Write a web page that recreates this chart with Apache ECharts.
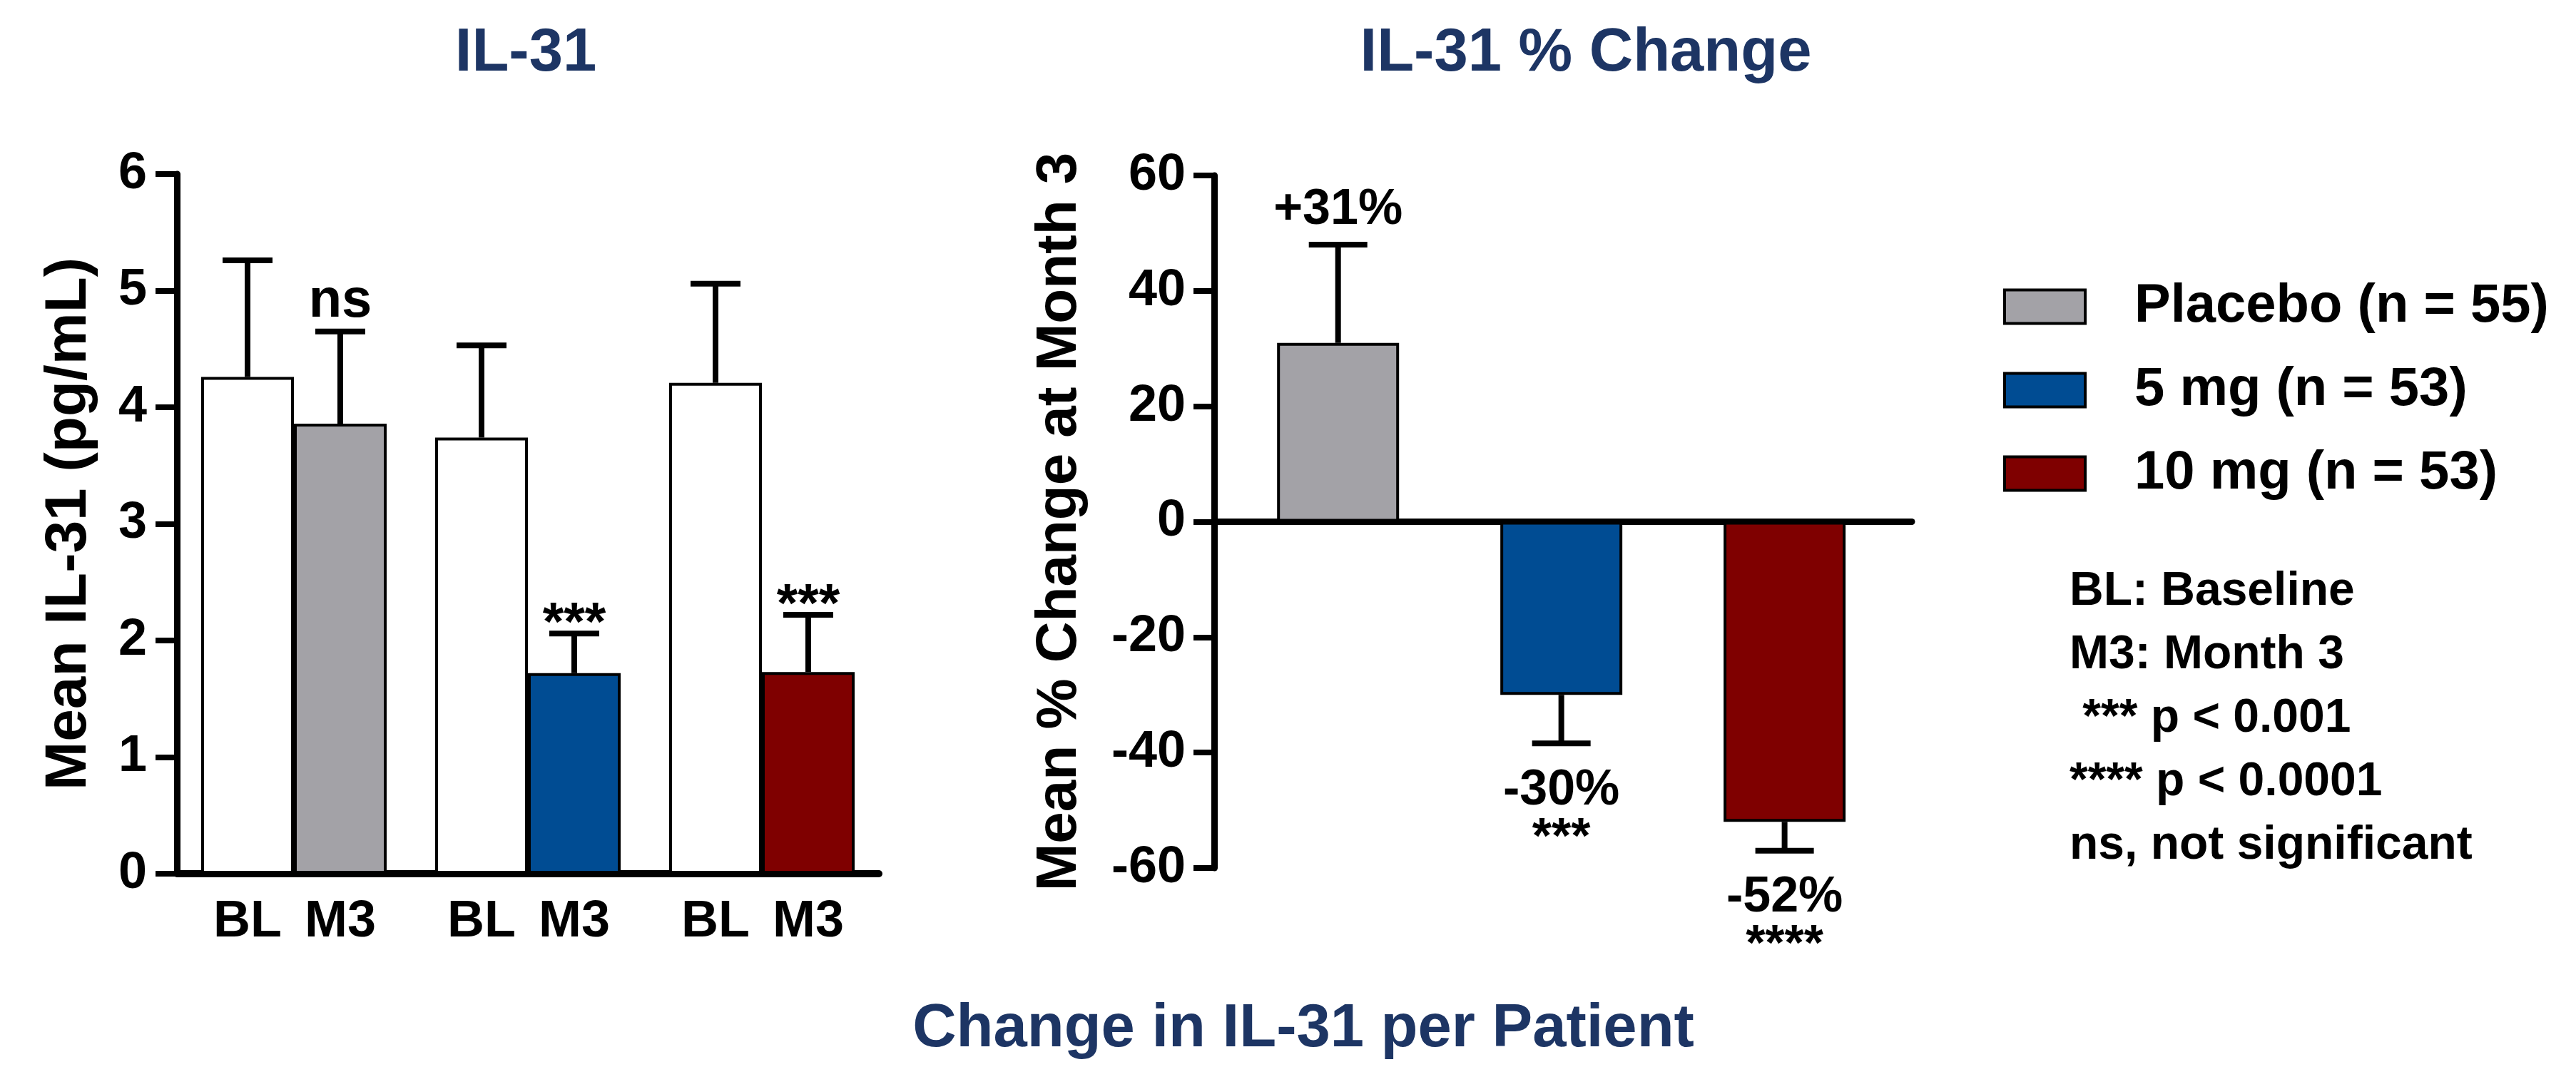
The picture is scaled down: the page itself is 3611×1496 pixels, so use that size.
<!DOCTYPE html>
<html>
<head>
<meta charset="utf-8">
<title>Change in IL-31 per Patient</title>
<script src="https://cdn.jsdelivr.net/npm/echarts@6/dist/echarts.min.js"></script>
<style>
  html, body { margin: 0; padding: 0; background: #ffffff; }
  #chart { width: 3611px; height: 1496px; }
</style>
</head>
<body>
<div id="chart"></div>
<script>
// Treatment groups (also the legend entries)
const groups = ['Placebo (n = 55)', '5 mg (n = 53)', '10 mg (n = 53)'];
const groupColors = ['#a3a2a7', '#004c93', '#7f0000'];
const visitLabels = ['BL', 'M3'];

// Mean IL-31 (pg/mL) with upper error bar ends
const baselineMean = [4.26, 3.74, 4.21];
const baselineErrTop = [5.26, 4.53, 5.06];
const month3Mean = [3.86, 1.72, 1.73];
const month3ErrTop = [4.65, 2.06, 2.22];
const month3Sig = ['ns', '***', '***'];

// Mean % change at month 3 with error bar ends
const pctChange = [31, -30, -52];
const pctErrEnd = [48, -38.4, -57];
const pctSig = ['', '***', '****'];

// Footnotes
const notes = ['BL: Baseline', 'M3: Month 3', ' *** p < 0.001', '**** p < 0.0001', 'ns, not significant'];

const FONT = '"Liberation Sans", Arial, Helvetica, sans-serif';
const NAVY = '#1d3564';
const LEFT_BAR_W = 130;
const RIGHT_BAR_W = 171;

function errorBarGroup(x, y0, y1, capW) {
  return [
    { type: 'line', shape: { x1: x, y1: y0, x2: x, y2: y1 },
      style: { stroke: '#000', lineWidth: 8 } },
    { type: 'line', shape: { x1: x - capW / 2, y1: y1, x2: x + capW / 2, y2: y1 },
      style: { stroke: '#000', lineWidth: 8 } }
  ];
}

function leftErrorRenderer(side, marks) {
  return function (params, api) {
    const i = api.value(0);
    const base = api.coord([i, api.value(1)]);
    const tip = api.coord([i, api.value(2)]);
    const x = base[0] + side * LEFT_BAR_W / 2;
    const children = errorBarGroup(x, base[1], tip[1], 70);
    const mark = marks ? marks[params.dataIndex] : '';
    if (mark) {
      const stars = mark.indexOf('*') === 0;
      children.push({
        type: 'text',
        style: {
          text: mark, x: x, y: tip[1] - (stars ? 12 : 42),
          align: 'center', verticalAlign: 'middle',
          font: 'bold 76px ' + FONT, fill: '#000'
        }
      });
    }
    return { type: 'group', children: children };
  };
}

function pctErrorRenderer(params, api) {
  const i = api.value(0);
  const v = api.value(1);
  const base = api.coord([i, v]);
  const tip = api.coord([i, api.value(2)]);
  const x = base[0];
  const children = errorBarGroup(x, base[1], tip[1], 82);
  const label = (v > 0 ? '+' : '') + v + '%';
  const labelY = v >= 0 ? tip[1] - 48 : tip[1] + 66;
  children.push({
    type: 'text',
    style: {
      text: label, x: x, y: labelY,
      align: 'center', verticalAlign: 'middle',
      font: 'bold 70px ' + FONT, fill: '#000'
    }
  });
  const sig = pctSig[params.dataIndex];
  if (sig) {
    children.push({
      type: 'text',
      style: {
        text: sig, x: x, y: labelY + 68,
        align: 'center', verticalAlign: 'middle',
        font: 'bold 70px ' + FONT, fill: '#000'
      }
    });
  }
  return { type: 'group', children: children };
}

const axisText = { color: '#000', fontWeight: 'bold', fontFamily: FONT };

const option = {
  backgroundColor: '#ffffff',
  animation: false,
  textStyle: { fontFamily: FONT },
  grid: [
    { left: 248, top: 244, width: 984, height: 981 },
    { left: 1702, top: 246, width: 978, height: 971 }
  ],
  legend: {
    data: groups,
    orient: 'vertical',
    left: 2808,
    top: 392,
    padding: 0,
    itemWidth: 113,
    itemHeight: 47,
    itemGap: 41,
    icon: 'rect',
    selectedMode: false,
    itemStyle: { borderColor: '#000', borderWidth: 4 },
    textStyle: {
      fontSize: 76, fontWeight: 'bold', color: '#000', fontFamily: FONT,
      lineHeight: 47, padding: [0, 0, 0, 64]
    }
  },
  graphic: [
    { type: 'text', x: 737, y: 76,
      style: { text: 'IL-31', align: 'center', verticalAlign: 'middle',
               font: 'bold 85px ' + FONT, fill: NAVY } },
    { type: 'text', x: 2223, y: 76,
      style: { text: 'IL-31 % Change', align: 'center', verticalAlign: 'middle',
               font: 'bold 85px ' + FONT, fill: NAVY } },
    { type: 'text', x: 1827, y: 1444,
      style: { text: 'Change in IL-31 per Patient', align: 'center', verticalAlign: 'middle',
               font: 'bold 85px ' + FONT, fill: NAVY } },
    { type: 'text', x: 2901, y: 785,
      style: { text: notes.join('\n'), align: 'left', verticalAlign: 'top',
               font: 'bold 66px ' + FONT, lineHeight: 89, fill: '#000' } }
  ],
  xAxis: [
    {
      type: 'category', gridIndex: 0, data: groups,
      axisLine: { lineStyle: { color: '#000', width: 10 } },
      axisTick: { show: false },
      axisLabel: {
        margin: 32,
        formatter: function () { return '{a|' + visitLabels[0] + '}{b|' + visitLabels[1] + '}'; },
        rich: {
          a: Object.assign({ width: LEFT_BAR_W, align: 'center', fontSize: 72 }, axisText),
          b: Object.assign({ width: LEFT_BAR_W, align: 'center', fontSize: 72 }, axisText)
        }
      },
      splitLine: { show: false }
    },
    {
      type: 'value', gridIndex: 1, min: -0.555, max: 2.57,
      axisLine: { onZero: true, lineStyle: { color: '#000', width: 9 } },
      axisTick: { show: false },
      axisLabel: { show: false },
      splitLine: { show: false }
    }
  ],
  yAxis: [
    {
      type: 'value', gridIndex: 0, min: 0, max: 6, interval: 1,
      name: 'Mean IL-31 (pg/mL)', nameLocation: 'middle', nameGap: 110,
      nameTextStyle: Object.assign({ fontSize: 82 }, axisText),
      axisLine: { show: true, onZero: false, lineStyle: { color: '#000', width: 9 } },
      axisTick: { show: true, length: 30, lineStyle: { color: '#000', width: 8 } },
      axisLabel: Object.assign({ margin: 42, fontSize: 72 }, axisText),
      splitLine: { show: false }
    },
    {
      type: 'value', gridIndex: 1, min: -60, max: 60, interval: 20,
      name: 'Mean % Change at Month 3', nameLocation: 'middle', nameGap: 176,
      nameTextStyle: Object.assign({ fontSize: 80 }, axisText),
      axisLine: { show: true, onZero: false, lineStyle: { color: '#000', width: 9 } },
      axisTick: { show: true, length: 29, lineStyle: { color: '#000', width: 8 } },
      axisLabel: Object.assign({ margin: 40, fontSize: 72 }, axisText),
      splitLine: { show: false }
    }
  ],
  series: [
    {
      name: 'Baseline', type: 'bar', xAxisIndex: 0, yAxisIndex: 0,
      barWidth: LEFT_BAR_W, barGap: '0%',
      data: baselineMean,
      itemStyle: { color: '#ffffff', borderColor: '#000', borderWidth: 4 },
      z: 2
    },
    {
      name: 'Month 3', type: 'bar', xAxisIndex: 0, yAxisIndex: 0,
      barWidth: LEFT_BAR_W, barGap: '0%',
      data: month3Mean.map(function (v, i) { return { value: v, itemStyle: { color: groupColors[i] } }; }),
      itemStyle: { borderColor: '#000', borderWidth: 4 },
      z: 2
    },
    {
      name: 'Baseline error', type: 'custom', xAxisIndex: 0, yAxisIndex: 0,
      renderItem: leftErrorRenderer(-1, null),
      data: baselineMean.map(function (v, i) { return [i, v, baselineErrTop[i]]; }),
      z: 3
    },
    {
      name: 'Month 3 error', type: 'custom', xAxisIndex: 0, yAxisIndex: 0,
      renderItem: leftErrorRenderer(1, month3Sig),
      data: month3Mean.map(function (v, i) { return [i, v, month3ErrTop[i]]; }),
      z: 3
    }
  ].concat(groups.map(function (g, i) {
    return {
      name: g, type: 'bar', xAxisIndex: 1, yAxisIndex: 1,
      barWidth: RIGHT_BAR_W, barGap: '-100%',
      data: [[i, pctChange[i]]],
      itemStyle: { color: groupColors[i], borderColor: '#000', borderWidth: 4 },
      z: 2
    };
  })).concat([
    {
      name: '% change error', type: 'custom', xAxisIndex: 1, yAxisIndex: 1,
      renderItem: pctErrorRenderer,
      data: pctChange.map(function (v, i) { return [i, v, pctErrEnd[i]]; }),
      z: 3
    }
  ])
};

const chart = echarts.init(document.getElementById('chart'), null, { renderer: 'canvas' });
chart.setOption(option);
</script>
</body>
</html>
